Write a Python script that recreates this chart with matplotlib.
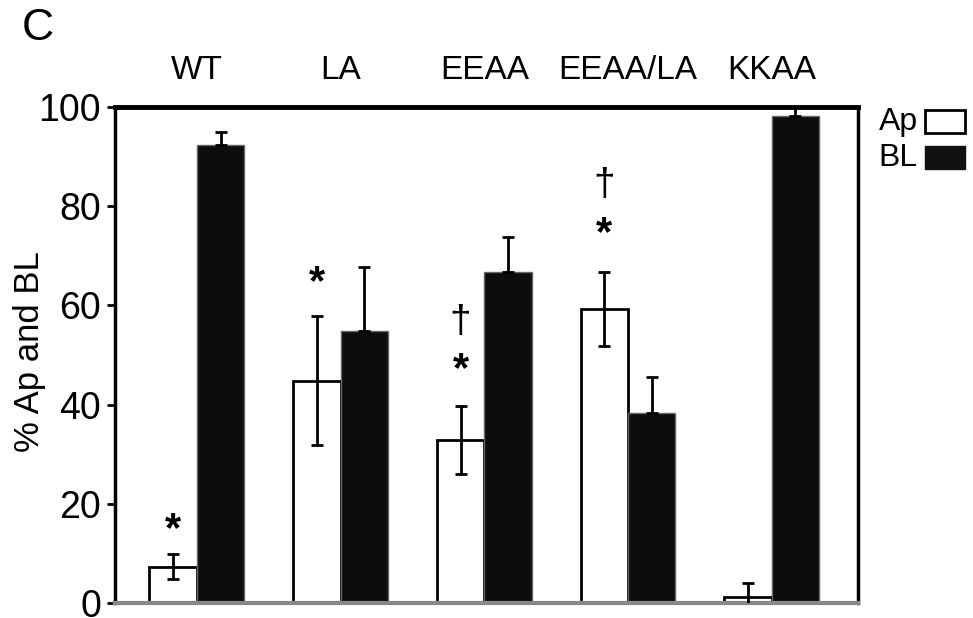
import matplotlib
matplotlib.use("Agg")
import matplotlib.pyplot as plt
from matplotlib.patches import Rectangle
import numpy as np

plt.rcParams['font.family'] = ['Liberation Sans', 'DejaVu Sans']

categories = ["WT", "LA", "EEAA", "EEAA/LA", "KKAA"]
ap_values = [7.3, 44.8, 32.9, 59.3, 1.2]
ap_err = [2.5, 13.0, 6.8, 7.5, 2.8]
bl_values = [92.3, 54.8, 66.7, 38.3, 98.2]
bl_err = [2.6, 13.0, 7.0, 7.3, 2.5]
# annotations: (category index, y value, symbol)
annotations = [(0, 14.7, "*"), (1, 64.5, "*"), (2, 47.0, "*"), (2, 56.7, "\u2020"),
               (3, 74.4, "*"), (3, 84.3, "\u2020")]
yticks = [0, 20, 40, 60, 80, 100]

fig = plt.figure(figsize=(9.73, 6.18), dpi=100)
ax = fig.add_axes([115/973, 15/618, 743/973, 496/618])

x = np.arange(len(categories))
w = 0.33
ax.bar(x - w/2, ap_values, width=w, color="white", edgecolor="black", linewidth=2, zorder=2)
ax.bar(x + w/2, bl_values, width=w, color="#0d0d0d", edgecolor="#666666", linewidth=1, zorder=2)
ax.errorbar(x - w/2, ap_values, yerr=ap_err, fmt="none", ecolor="black", elinewidth=2,
            capsize=4.5, capthick=2, zorder=3)
ax.errorbar(x + w/2, bl_values, yerr=[[0] * len(bl_err), bl_err], fmt="none", ecolor="black",
            elinewidth=2, capsize=4.5, capthick=2, zorder=3)

for i, yv, s in annotations:
    if s == "*":
        ax.text(i - w/2, yv, s, ha="center", va="center", fontsize=30, fontweight="bold")
    else:
        ax.text(i - w/2, yv, s, ha="center", va="center", fontsize=28)

ax.set_xlim(-0.57, 4.6)
ax.set_ylim(0, 100)
ax.set_yticks(yticks)
ax.set_yticklabels([str(t) for t in yticks], fontsize=27)
ax.set_xticks([])
ax.tick_params(axis="y", direction="out", length=6, width=2, pad=4)

ax.spines["top"].set_linewidth(3.5)
ax.spines["left"].set_linewidth(2.5)
ax.spines["right"].set_linewidth(2.5)
ax.spines["bottom"].set_linewidth(3)
ax.spines["bottom"].set_color("#888888")

for i, c in enumerate(categories):
    ax.text(i, 104.3, c, ha="center", va="bottom", fontsize=24, clip_on=False)

fig.text(30/973, 1 - 352/618, "% Ap and BL", fontsize=25, rotation=90, ha="center", va="center")

fig.text(22/973, 1 - 28/618, "C", fontsize=32, ha="left", va="center")

# legend
fig.text(918/973, 1 - 122/618, "Ap", fontsize=23, ha="right", va="center")
fig.text(918/973, 1 - 158/618, "BL", fontsize=23, ha="right", va="center")
fig.patches.append(Rectangle((925/973, 1 - 133/618), 40/973, 23/618, transform=fig.transFigure,
                             facecolor="white", edgecolor="black", linewidth=2))
fig.patches.append(Rectangle((925/973, 1 - 169/618), 40/973, 23/618, transform=fig.transFigure,
                             facecolor="#111111", edgecolor="#111111", linewidth=1))

fig.savefig("out.png", dpi=100)
